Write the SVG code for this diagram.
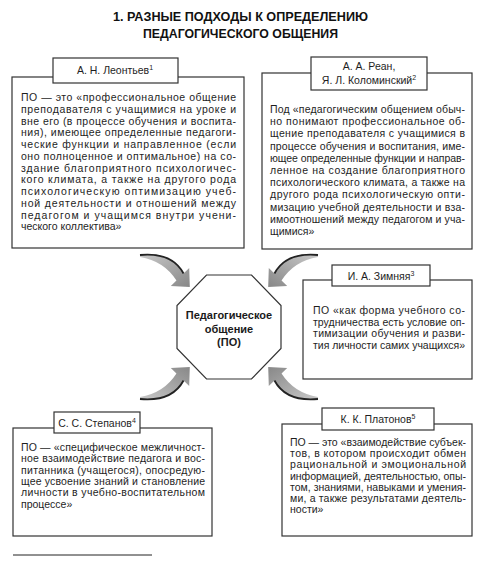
<svg xmlns="http://www.w3.org/2000/svg" xmlns:xlink="http://www.w3.org/1999/xlink" width="489" height="561" viewBox="0 0 489 561">
<style>
.box{fill:#fff;stroke:#333;stroke-width:1.2}
.t{font-family:"Liberation Sans",Arial,sans-serif;font-size:10.5px;fill:#1e1e1e}
.lbl{font-family:"Liberation Sans",Arial,sans-serif;font-size:10.5px;fill:#1e1e1e;text-anchor:middle}
.title{font-family:"Liberation Sans",Arial,sans-serif;font-size:13px;font-weight:bold;fill:#111;text-anchor:middle}
.ctr{font-family:"Liberation Sans",Arial,sans-serif;font-size:11px;font-weight:bold;fill:#1a1a1a;text-anchor:middle}
.sup{font-size:7px}
.arrfill{fill:url(#ag)}
.arredge{fill:none;stroke:#222;stroke-width:1.8}
</style>
<defs>
<linearGradient id="ag" x1="0" y1="0" x2="1" y2="1">
<stop offset="0" stop-color="#c8c8c8"/>
<stop offset="1" stop-color="#888"/>
</linearGradient>
<g id="arrow">
<path class="arrfill" d="M140,255 Q172,252 183.55,273.5 L189.2,267.9 L189.8,286.9 L170.8,286.1 L176.45,280.5 Q164,261 140,257 Z"/>
<path class="arredge" d="M140,255 Q172,252 183.55,273.5"/>
</g>
</defs>
<rect width="489" height="561" fill="#fff"/>
<g id="title">
<text class="title" x="240.5" y="21" textLength="255" lengthAdjust="spacingAndGlyphs">1. РАЗНЫЕ ПОДХОДЫ К ОПРЕДЕЛЕНИЮ</text>
<text class="title" x="240.5" y="38" textLength="195" lengthAdjust="spacingAndGlyphs">ПЕДАГОГИЧЕСКОГО ОБЩЕНИЯ</text>
</g>
<g id="connectors">
<use xlink:href="#arrow"/>
<use xlink:href="#arrow" transform="translate(458,0) scale(-1,1)"/>
<use xlink:href="#arrow" transform="translate(0,654) scale(1,-1)"/>
<use xlink:href="#arrow" transform="translate(458,654) scale(-1,-1)"/>
</g>
<g id="center">
<polygon class="box" points="206.5,275 251.5,275 281,305.5 281,348.5 251.5,379 206.5,379 177,348.5 177,305.5"/>
<text class="ctr" x="229" y="319">Педагогическое</text>
<text class="ctr" x="229" y="332.5">общение</text>
<text class="ctr" x="229" y="346">(ПО)</text>
</g>
<g id="leontiev">
<rect class="box" x="12" y="77" width="232" height="171"/>
<rect class="box" x="53" y="58" width="125" height="25"/>
<text class="lbl" x="115" y="74">А. Н. Леонтьев<tspan class="sup" dy="-4">1</tspan></text>
<text class="t" x="21" y="101" textLength="215" lengthAdjust="spacing">ПО — это «профессиональное общение</text>
<text class="t" x="21" y="112.75" textLength="215" lengthAdjust="spacing">преподавателя с учащимися на уроке и</text>
<text class="t" x="21" y="124.5" textLength="215" lengthAdjust="spacing">вне его (в процессе обучения и воспита-</text>
<text class="t" x="21" y="136.25" textLength="215" lengthAdjust="spacing">ния), имеющее определенные педагоги-</text>
<text class="t" x="21" y="148" textLength="215" lengthAdjust="spacing">ческие функции и направленное  (если</text>
<text class="t" x="21" y="159.75" textLength="215" lengthAdjust="spacing">оно полноценное и оптимальное) на со-</text>
<text class="t" x="21" y="171.5" textLength="215" lengthAdjust="spacing">здание  благоприятного психологичес-</text>
<text class="t" x="21" y="183.25" textLength="215" lengthAdjust="spacing">кого климата, а также на другого рода</text>
<text class="t" x="21" y="195" textLength="215" lengthAdjust="spacing">психологическую оптимизацию учеб-</text>
<text class="t" x="21" y="206.75" textLength="215" lengthAdjust="spacing">ной деятельности  и отношений между</text>
<text class="t" x="21" y="218.5" textLength="215" lengthAdjust="spacing">педагогом и учащимся внутри учени-</text>
<text class="t" x="21" y="230.25">ческого коллектива»</text>
</g>
<g id="rean">
<rect class="box" x="262" y="73" width="210" height="176"/>
<rect class="box" x="311" y="57" width="116" height="33"/>
<text class="lbl" x="369" y="70">А. А. Реан,</text>
<text class="lbl" x="369" y="84">Я. Л. Коломинский<tspan class="sup" dy="-4">2</tspan></text>
<text class="t" x="270" y="113" textLength="195" lengthAdjust="spacing">Под «педагогическим общением обыч-</text>
<text class="t" x="270" y="125.2" textLength="195" lengthAdjust="spacing">но понимают профессиональное об-</text>
<text class="t" x="270" y="137.4" textLength="195" lengthAdjust="spacing">щение преподавателя с учащимися в</text>
<text class="t" x="270" y="149.6" textLength="195" lengthAdjust="spacing">процессе обучения и воспитания, име-</text>
<text class="t" x="270" y="161.8" textLength="195" lengthAdjust="spacing">ющее определенные функции и направ-</text>
<text class="t" x="270" y="174" textLength="195" lengthAdjust="spacing">ленное на создание благоприятного</text>
<text class="t" x="270" y="186.2" textLength="195" lengthAdjust="spacing">психологического климата, а также на</text>
<text class="t" x="270" y="198.4" textLength="195" lengthAdjust="spacing">другого рода психологическую опти-</text>
<text class="t" x="270" y="210.6" textLength="195" lengthAdjust="spacing">мизацию учебной деятельности и вза-</text>
<text class="t" x="270" y="222.8" textLength="195" lengthAdjust="spacing">имоотношений между педагогом и уча-</text>
<text class="t" x="270" y="235">щимися»</text>
</g>
<g id="zimnyaya">
<rect class="box" x="303" y="280" width="169" height="99"/>
<rect class="box" x="332" y="265" width="98" height="21"/>
<text class="lbl" x="381" y="279.5">И. А. Зимняя<tspan class="sup" dy="-4">3</tspan></text>
<text class="t" x="313" y="314" textLength="152" lengthAdjust="spacing">ПО «как форма учебного со-</text>
<text class="t" x="313" y="325.6" textLength="152" lengthAdjust="spacing">трудничества есть условие оп-</text>
<text class="t" x="313" y="337.2" textLength="152" lengthAdjust="spacing">тимизации обучения и разви-</text>
<text class="t" x="313" y="348.8" textLength="152" lengthAdjust="spacing">тия личности самих учащихся»</text>
</g>
<g id="stepanov">
<rect class="box" x="13" y="428" width="199" height="108"/>
<rect class="box" x="54" y="412" width="86" height="21"/>
<text class="lbl" x="97" y="426.5">С. С. Степанов<tspan class="sup" dy="-4">4</tspan></text>
<text class="t" x="21" y="451" textLength="184" lengthAdjust="spacing">ПО — «специфическое межличност-</text>
<text class="t" x="21" y="462.3" textLength="184" lengthAdjust="spacing">ное взаимодействие педагога и вос-</text>
<text class="t" x="21" y="473.6" textLength="184" lengthAdjust="spacing">питанника (учащегося), опосредую-</text>
<text class="t" x="21" y="484.9" textLength="184" lengthAdjust="spacing">щее усвоение знаний и становление</text>
<text class="t" x="21" y="496.2" textLength="184" lengthAdjust="spacing">личности в учебно-воспитательном</text>
<text class="t" x="21" y="507.5">процессе»</text>
</g>
<g id="platonov">
<rect class="box" x="282" y="424" width="190" height="112"/>
<rect class="box" x="322" y="408" width="112" height="22"/>
<text class="lbl" x="378" y="423">К. К. Платонов<tspan class="sup" dy="-4">5</tspan></text>
<text class="t" x="290" y="446" textLength="176" lengthAdjust="spacing">ПО — это «взаимодействие субъек-</text>
<text class="t" x="290" y="457.2" textLength="176" lengthAdjust="spacing">тов, в котором происходит обмен</text>
<text class="t" x="290" y="468.4" textLength="176" lengthAdjust="spacing">рациональной и эмоциональной</text>
<text class="t" x="290" y="479.6" textLength="176" lengthAdjust="spacing">информацией, деятельностью, опы-</text>
<text class="t" x="290" y="490.8" textLength="176" lengthAdjust="spacing">том, знаниями, навыками и умения-</text>
<text class="t" x="290" y="502" textLength="176" lengthAdjust="spacing">ми, а также результатами деятель-</text>
<text class="t" x="290" y="513.2">ности»</text>
</g>
<g id="footnote-rule">
<line x1="13" y1="555" x2="152" y2="555" stroke="#222" stroke-width="1"/>
</g>
</svg>
